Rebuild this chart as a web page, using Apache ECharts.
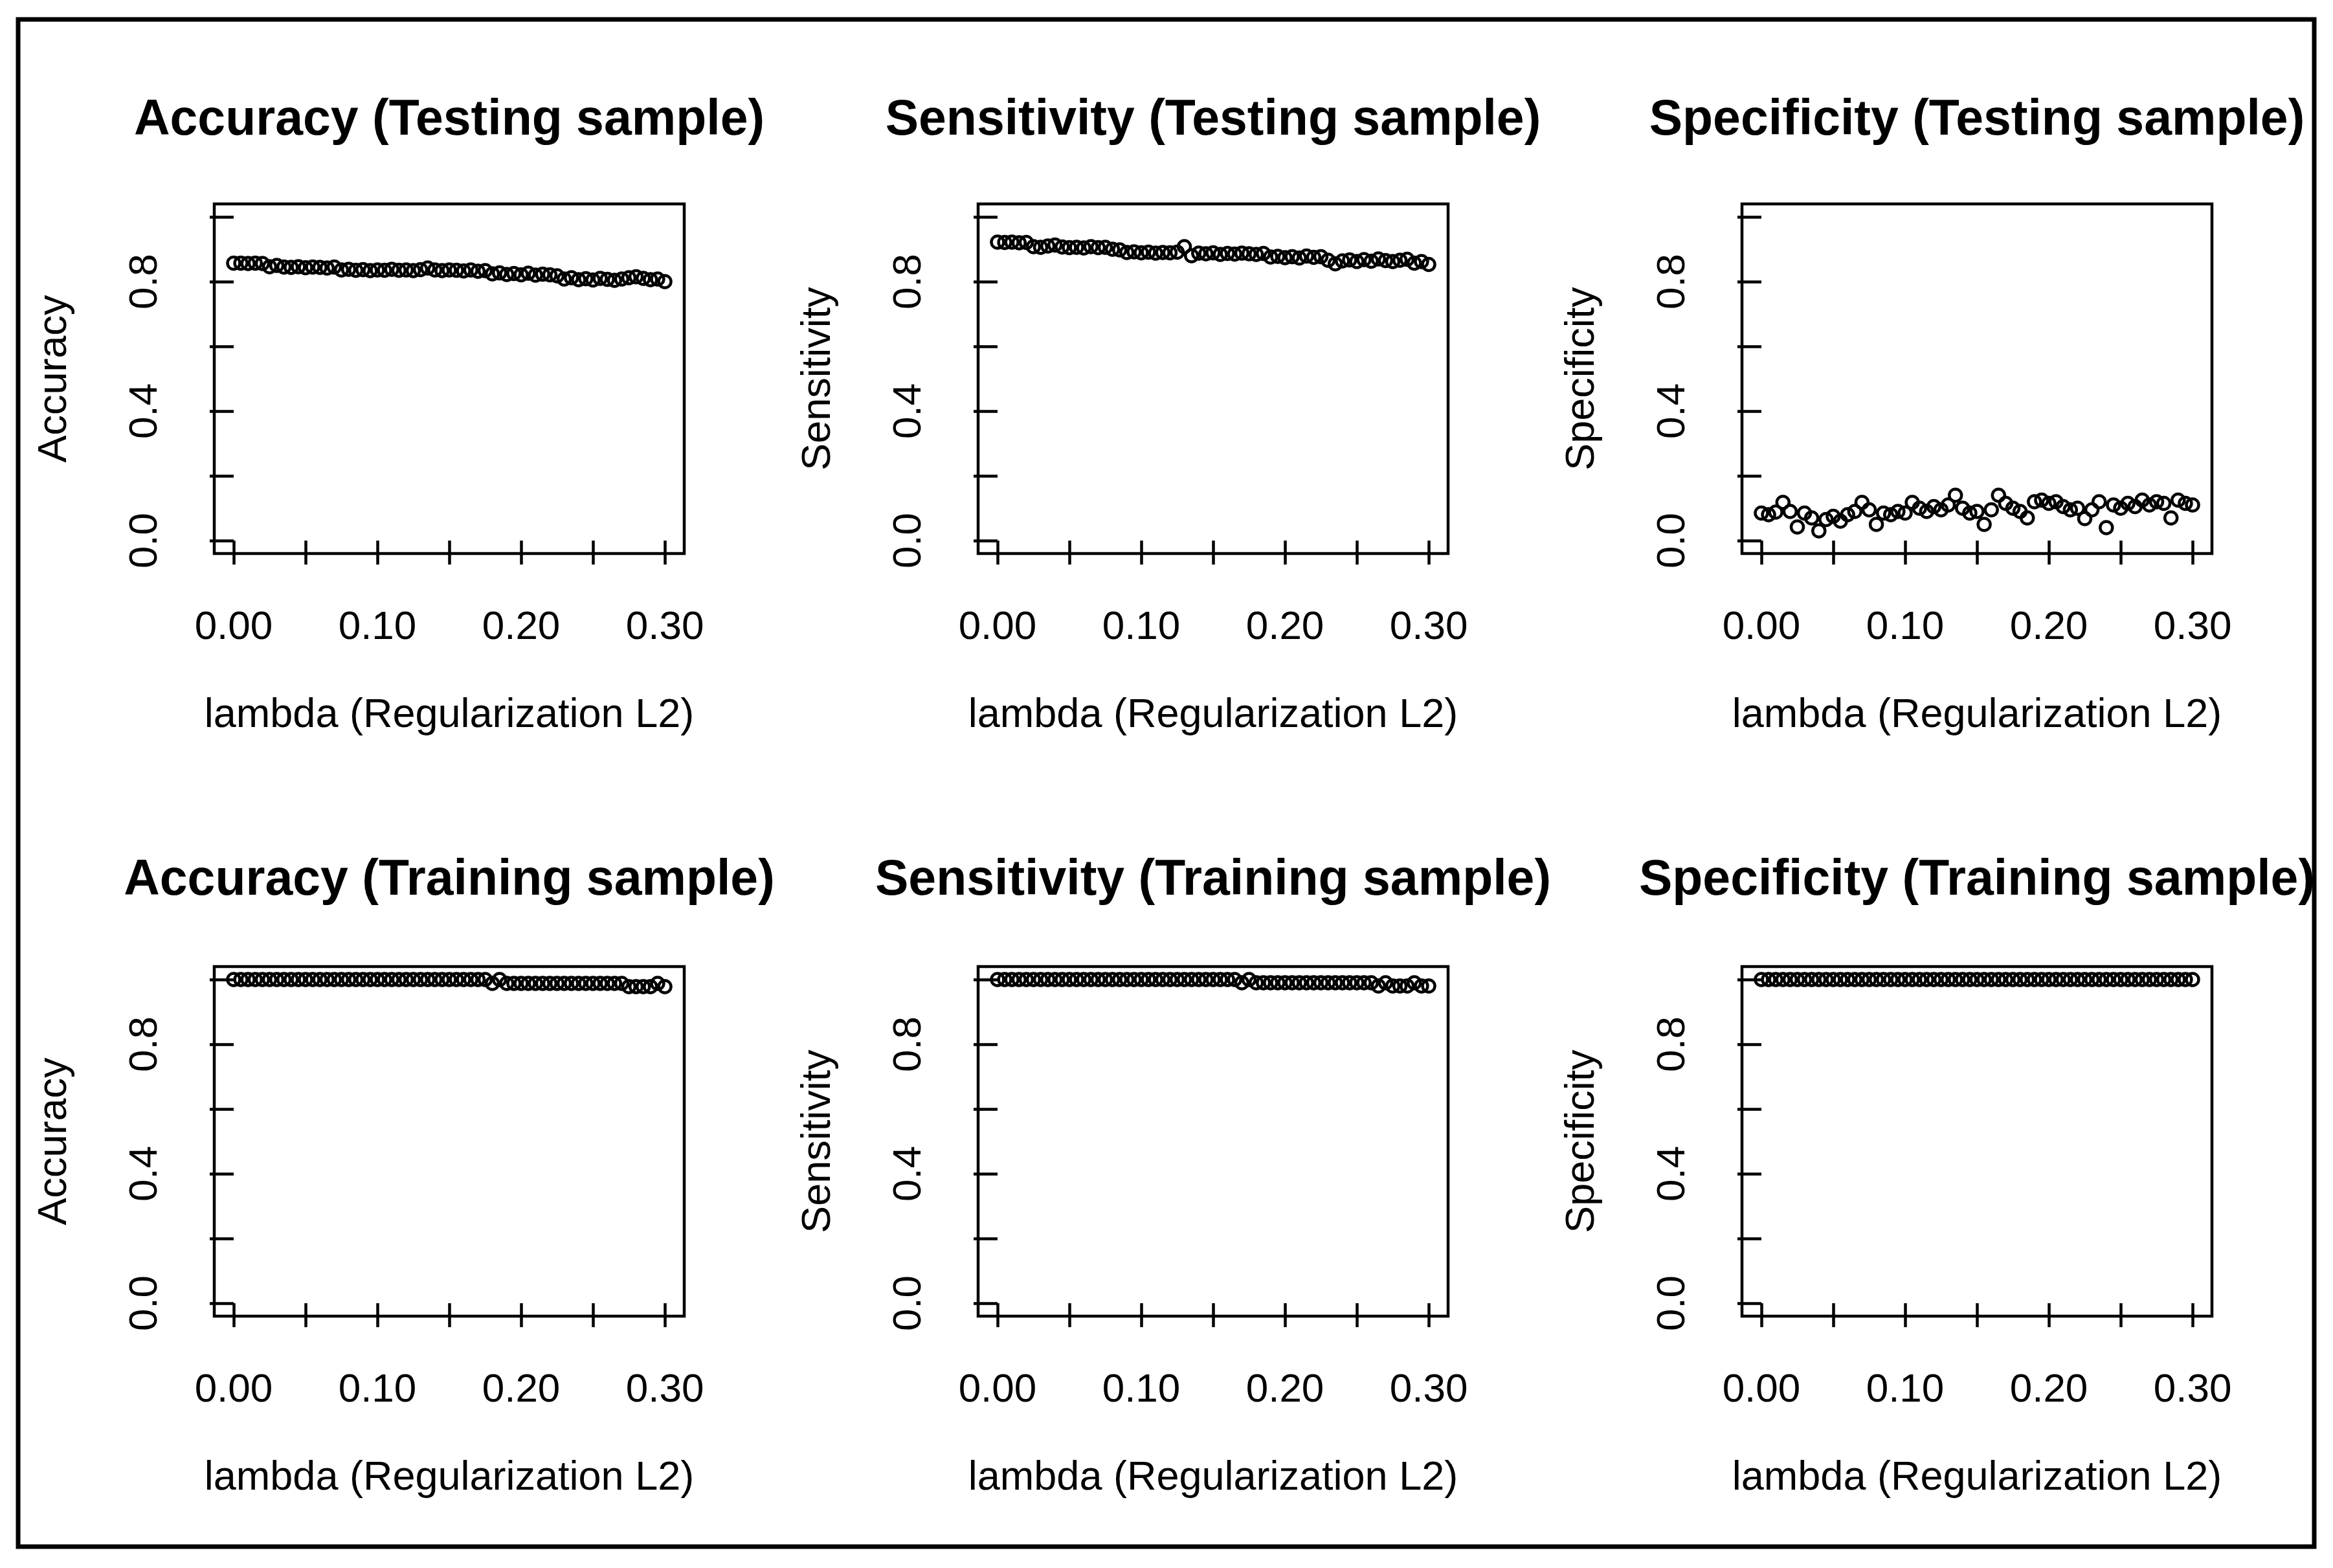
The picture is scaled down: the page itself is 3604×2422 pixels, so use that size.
<!DOCTYPE html>
<html>
<head>
<meta charset="utf-8">
<script src="https://cdn.jsdelivr.net/npm/echarts@6/dist/echarts.min.js"></script>
<style>
html,body{margin:0;padding:0;background:#fff;}
#chart{width:3604px;height:2422px;}
</style>
</head>
<body>
<div id="chart"></div>
<script>
// ---- data ----
var lambda = [0.000,0.005,0.010,0.015,0.020,0.025,0.030,0.035,0.040,0.045,
  0.050,0.055,0.060,0.065,0.070,0.075,0.080,0.085,0.090,0.095,
  0.100,0.105,0.110,0.115,0.120,0.125,0.130,0.135,0.140,0.145,
  0.150,0.155,0.160,0.165,0.170,0.175,0.180,0.185,0.190,0.195,
  0.200,0.205,0.210,0.215,0.220,0.225,0.230,0.235,0.240,0.245,
  0.250,0.255,0.260,0.265,0.270,0.275,0.280,0.285,0.290,0.295,0.300];

var accuracyTesting = [0.857,0.857,0.856,0.857,0.856,
  0.846,0.850,0.845,0.844,0.846,0.843,0.845,0.844,0.842,0.845,
  0.836,0.838,0.835,0.837,0.834,0.836,0.835,0.838,
  0.835,0.836,0.834,0.837,0.842,0.836,0.834,0.836,0.835,0.833,0.836,0.832,0.834,
  0.824,0.827,0.822,0.825,0.821,0.826,0.820,0.823,0.821,0.818,
  0.808,0.812,0.806,0.809,0.805,0.810,0.807,0.804,0.808,0.812,0.815,0.810,0.806,0.808,0.800];

var sensitivityTesting = [0.922,0.921,0.922,0.920,0.921,
  0.908,0.906,0.910,0.913,0.907,0.905,0.906,0.904,0.908,0.905,0.906,
  0.900,0.898,
  0.890,0.892,0.889,0.891,0.888,0.890,0.889,0.891,
  0.908,0.880,
  0.888,0.886,0.889,0.884,0.887,0.885,0.888,0.886,0.884,0.887,
  0.876,0.878,0.874,0.877,0.873,0.879,0.875,0.877,
  0.866,0.855,0.864,0.867,0.862,0.868,0.863,0.870,0.865,0.862,0.866,0.869,0.857,0.862,0.853];

var specificityTesting = [0.085,0.080,0.088,0.118,0.090,
  0.042,0.085,0.070,0.030,0.065,
  0.075,0.060,0.080,0.090,0.118,
  0.095,0.050,0.085,0.080,0.090,
  0.085,0.118,0.100,0.090,0.105,
  0.095,0.110,0.140,0.100,0.085,
  0.090,0.050,0.095,0.140,0.115,
  0.100,0.090,0.070,0.120,0.125,
  0.115,0.120,0.105,0.095,0.100,
  0.068,0.095,0.120,0.040,0.110,
  0.100,0.115,0.105,0.125,0.110,
  0.120,0.115,0.070,0.125,0.115,
  0.110];

var accuracyTraining = [1,1,1,1,1,1,1,1,1,1, 1,1,1,1,1,1,1,1,1,1,
  1,1,1,1,1,1,1,1,1,1, 1,1,1,1,1,1,
  0.988,1.000,
  0.988,0.988,0.988,0.988,0.988,0.988,0.988,0.988,0.988,0.988,
  0.988,0.988,0.988,0.988,0.988,0.988,0.988,
  0.978,0.978,0.978,0.978,0.988,0.978];

var sensitivityTraining = [1,1,1,1,1,1,1,1,1,1, 1,1,1,1,1,1,1,1,1,1,
  1,1,1,1,1,1,1,1,1,1, 1,1,1,1,
  0.990,1.000,
  0.990,0.990,0.990,0.990,0.990,0.990,0.990,0.990,0.990,0.990,
  0.990,0.990,0.990,0.990,0.990,0.990,0.990,
  0.980,0.990,0.980,0.980,0.980,0.990,0.980,0.980];

var specificityTraining = [1,1,1,1,1,1,1,1,1,1, 1,1,1,1,1,1,1,1,1,1,
  1,1,1,1,1,1,1,1,1,1, 1,1,1,1,1,1,1,1,1,1,
  1,1,1,1,1,1,1,1,1,1, 1,1,1,1,1,1,1,1,1,1, 1];

var xTicks = [0, 0.05, 0.10, 0.15, 0.20, 0.25, 0.30];
var xTickLabels = [0, 0.10, 0.20, 0.30];
var yTicks = [0, 0.2, 0.4, 0.6, 0.8, 1.0];
var yTickLabels = [0, 0.4, 0.8];

var titles = ['Accuracy (Testing sample)', 'Sensitivity (Testing sample)', 'Specificity (Testing sample)',
              'Accuracy (Training sample)', 'Sensitivity (Training sample)', 'Specificity (Training sample)'];
var yNames = ['Accuracy', 'Sensitivity', 'Specificity', 'Accuracy', 'Sensitivity', 'Specificity'];
var xName = 'lambda (Regularization L2)';
var seriesData = [accuracyTesting, sensitivityTesting, specificityTesting,
                  accuracyTraining, sensitivityTraining, specificityTraining];

// ---- layout ----
var colLeft = [331, 1511, 2691];
var rowTop = [315, 1493];
var boxW = 726, boxH = 540;
var FONT = '"Liberation Sans", Arial, sans-serif';

var grids = [], xAxes = [], yAxes = [], series = [], graphics = [];
graphics.push({type:'rect', shape:{x:28, y:30, width:3547, height:2359},
  style:{fill:'none', stroke:'#000', lineWidth:7}, silent:true});

for (var k = 0; k < 6; k++) {
  var r = Math.floor(k / 3), c = k % 3;
  grids.push({left: colLeft[c], top: rowTop[r], width: boxW, height: boxH,
    show: true, borderColor: '#000', borderWidth: 4.5, backgroundColor: 'transparent', containLabel: false});
  xAxes.push({type:'value', gridIndex:k, min:-0.0135, max:0.3135,
    axisLine:{show:false}, splitLine:{show:false},
    axisTick:{show:true, customValues:xTicks, length:37, lineStyle:{color:'#000', width:4.5}},
    axisLabel:{show:true, customValues:xTickLabels, margin:84, fontSize:62, fontFamily:FONT, color:'#000',
      formatter:function(v){return v.toFixed(2);}},
    name: xName, nameLocation:'middle', nameGap:219,
    nameTextStyle:{fontSize:63, fontFamily:FONT, color:'#000'}
  });
  yAxes.push({type:'value', gridIndex:k, min:-0.04, max:1.04,
    axisLine:{show:false}, splitLine:{show:false},
    axisTick:{show:true, customValues:yTicks, length:37, lineStyle:{color:'#000', width:4.5}},
    axisLabel:{show:true, customValues:yTickLabels, rotate:90, margin:75, fontSize:62, fontFamily:FONT, color:'#000',
      formatter:function(v){return v.toFixed(1);}},
    name: yNames[k], nameLocation:'middle', nameGap:215, nameRotate:90,
    nameTextStyle:{fontSize:63, fontFamily:FONT, color:'#000'}
  });
  var pts = [];
  for (var i = 0; i < lambda.length; i++) pts.push([lambda[i], seriesData[k][i]]);
  series.push({type:'scatter', xAxisIndex:k, yAxisIndex:k, data:pts,
    symbol:'circle', symbolSize:19,
    itemStyle:{color:'rgba(0,0,0,0)', borderColor:'#000', borderWidth:4.5, opacity:1}});
  graphics.push({type:'text', silent:true,
    x: colLeft[c] + boxW/2, y: (r === 0 ? 187 : 1361),
    style:{text: titles[k], fontSize:77, fontWeight:'bold', fontFamily:FONT, fill:'#000',
      textAlign:'center', textVerticalAlign:'middle'}});
}

var chart = echarts.init(document.getElementById('chart'), null, {renderer:'canvas'});
chart.setOption({
  animation:false,
  backgroundColor:'#fff',
  grid: grids, xAxis: xAxes, yAxis: yAxes, series: series,
  graphic: graphics
});
</script>
</body>
</html>
